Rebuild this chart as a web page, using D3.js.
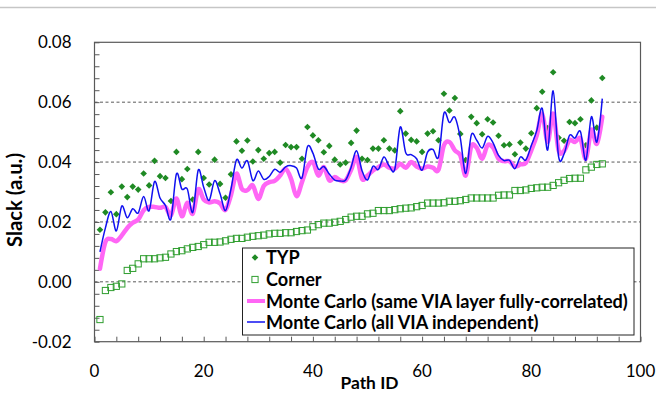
<!DOCTYPE html>
<html><head><meta charset="utf-8">
<script src="https://cdn.jsdelivr.net/npm/d3@7"></script>
<style>
html,body{margin:0;padding:0;background:#fff;}
svg{display:block;}
text{font-family:Lato,"Open Sans",sans-serif;}
</style></head>
<body>
<svg id="chart" width="656" height="409"></svg>
<script>
const pathIds = [1,2,3,4,5,6,7,8,9,10,11,12,13,14,15,16,17,18,19,20,21,22,23,24,25,26,27,28,29,30,31,32,33,34,35,36,37,38,39,40,41,42,43,44,45,46,47,48,49,50,51,52,53,54,55,56,57,58,59,60,61,62,63,64,65,66,67,68,69,70,71,72,73,74,75,76,77,78,79,80,81,82,83,84,85,86,87,88,89,90,91,92,93];
const typ = [0.0174,0.0232,0.0299,0.0226,0.0318,0.0283,0.0318,0.0308,0.0362,0.0322,
0.0404,0.0353,0.0347,0.0270,0.0434,0.0343,0.0377,0.0275,0.0434,0.0347,
0.0325,0.0408,0.0327,0.0281,0.0359,0.0469,0.0438,0.0472,0.0402,0.0440,
0.0411,0.0430,0.0434,0.0398,0.0457,0.0450,0.0450,0.0411,0.0517,0.0489,
0.0473,0.0433,0.0454,0.0408,0.0392,0.0398,0.0464,0.0505,0.0411,0.0407,
0.0445,0.0445,0.0473,0.0445,0.0439,0.0570,0.0495,0.0474,0.0469,0.0434,
0.0495,0.0503,0.0473,0.0628,0.0572,0.0614,0.0494,0.0407,0.0551,0.0530,
0.0493,0.0543,0.0532,0.0488,0.0456,0.0459,0.0426,0.0465,0.0445,0.0496,
0.0580,0.0635,0.0514,0.0700,0.0481,0.0471,0.0534,0.0530,0.0543,0.0456,
0.0606,0.0515,0.0681];
const corner = [-0.0126,-0.0029,-0.0019,-0.0015,-0.0007,0.0038,0.0045,0.0060,0.0077,0.0077,
0.0077,0.0080,0.0082,0.0093,0.0101,0.0104,0.0110,0.0115,0.0118,0.0124,
0.0132,0.0132,0.0133,0.0137,0.0142,0.0145,0.0145,0.0149,0.0152,0.0154,
0.0156,0.0160,0.0162,0.0162,0.0164,0.0164,0.0168,0.0171,0.0173,0.0184,
0.0191,0.0196,0.0196,0.0199,0.0202,0.0208,0.0216,0.0219,0.0219,0.0227,
0.0229,0.0238,0.0238,0.0238,0.0241,0.0244,0.0246,0.0247,0.0251,0.0255,
0.0263,0.0263,0.0263,0.0264,0.0269,0.0269,0.0271,0.0275,0.0280,0.0280,
0.0280,0.0280,0.0280,0.0289,0.0290,0.0290,0.0305,0.0305,0.0307,0.0312,
0.0314,0.0316,0.0316,0.0322,0.0331,0.0339,0.0345,0.0346,0.0346,0.0374,
0.0383,0.0392,0.0394];
const mcCorrelated = [0.0044,0.0133,0.0143,0.0136,0.0155,0.0180,0.0197,0.0208,0.0239,0.0250,
0.0250,0.0247,0.0250,0.0222,0.0278,0.0219,0.0264,0.0228,0.0309,0.0275,
0.0265,0.0269,0.0262,0.0240,0.0290,0.0361,0.0310,0.0306,0.0322,0.0277,
0.0320,0.0333,0.0337,0.0355,0.0378,0.0344,0.0286,0.0333,0.0383,0.0400,
0.0355,0.0383,0.0339,0.0350,0.0339,0.0339,0.0374,0.0417,0.0344,0.0355,
0.0372,0.0383,0.0392,0.0381,0.0378,0.0394,0.0381,0.0400,0.0385,0.0378,
0.0385,0.0381,0.0374,0.0456,0.0467,0.0439,0.0422,0.0355,0.0452,0.0448,
0.0411,0.0456,0.0448,0.0411,0.0403,0.0403,0.0385,0.0392,0.0397,0.0439,
0.0489,0.0562,0.0467,0.0562,0.0439,0.0437,0.0473,0.0467,0.0478,0.0411,
0.0508,0.0461,0.0551];
const mcIndependent = [0.0100,0.0180,0.0235,0.0170,0.0253,0.0214,0.0244,0.0230,0.0285,0.0237,
0.0335,0.0280,0.0255,0.0210,0.0360,0.0310,0.0310,0.0232,0.0373,0.0316,
0.0272,0.0338,0.0294,0.0238,0.0310,0.0407,0.0380,0.0404,0.0338,0.0370,
0.0342,0.0352,0.0376,0.0366,0.0384,0.0388,0.0380,0.0347,0.0451,0.0430,
0.0377,0.0385,0.0360,0.0340,0.0337,0.0340,0.0383,0.0438,0.0371,0.0340,
0.0386,0.0375,0.0417,0.0386,0.0376,0.0517,0.0431,0.0425,0.0411,0.0373,
0.0433,0.0442,0.0417,0.0563,0.0532,0.0550,0.0480,0.0362,0.0490,0.0473,
0.0447,0.0486,0.0464,0.0422,0.0405,0.0406,0.0378,0.0417,0.0407,0.0455,
0.0505,0.0579,0.0440,0.0638,0.0418,0.0427,0.0489,0.0480,0.0502,0.0406,
0.0551,0.0467,0.0612];
const xTickLabels = [0,20,40,60,80,100];
const yTickLabels = [-0.02,0.00,0.02,0.04,0.06,0.08];
const gridValues = [0.00,0.02,0.04,0.06];
const legendLabels = ["TYP","Corner","Monte Carlo (same VIA layer fully-correlated)","Monte Carlo (all VIA independent)"];

const svg = d3.select("#chart");
const L = 94.5, R = 640.5, T = 42.3, B = 341.7;
const x = d3.scaleLinear().domain([0,100]).range([L,R]);
const y = d3.scaleLinear().domain([-0.02,0.08]).range([B,T]);

const C = {typ:"#1f8a24", corner:"#2f9e2f", pink:"#ff66f5", blue:"#1010f0", axis:"#595959", grid:"#595959"};

svg.append("line").attr("x1",0).attr("x2",656).attr("y1",7.5).attr("y2",7.5)
  .attr("stroke","#c6c6c6").attr("stroke-width",1.5);

svg.append("g").selectAll("line").data(gridValues).join("line")
  .attr("x1",L).attr("x2",R).attr("y1",d=>y(d)).attr("y2",d=>y(d))
  .attr("stroke",C.grid).attr("stroke-width",1).attr("stroke-dasharray","3,2.5");

const yMinor = d3.range(-0.02, 0.0801, 0.004);
const xMinor = d3.range(0, 100.1, 4);
svg.append("g").attr("transform",`translate(${L},0)`)
  .call(d3.axisLeft(y).tickValues(yMinor).tickSize(-5).tickFormat(""))
  .call(g=>{g.select(".domain").remove(); g.selectAll("line").attr("stroke",C.axis);});
svg.append("g").attr("transform",`translate(0,${B})`)
  .call(d3.axisBottom(x).tickValues(xMinor).tickSize(-5).tickFormat(""))
  .call(g=>{g.select(".domain").remove(); g.selectAll("line").attr("stroke",C.axis);});

svg.append("rect").attr("x",L).attr("y",T).attr("width",R-L).attr("height",B-T)
  .attr("fill","none").attr("stroke",C.axis).attr("stroke-width",1.2);

const yl = svg.append("g").selectAll("text").data(yTickLabels).join("text")
  .attr("x",71.5).attr("y",d=>y(d)).attr("dy","0.36em").attr("text-anchor","end")
  .attr("font-size",17).attr("fill","#000").text(d=>d.toFixed(2));
const xl = svg.append("g").selectAll("text").data(xTickLabels).join("text")
  .attr("x",d=>x(d)).attr("y",376.5).attr("text-anchor","middle")
  .attr("font-size",17).attr("fill","#000").text(d=>d);

function fit(sel, target, base){
  const w = sel.node().getComputedTextLength();
  if (w>0) sel.attr("font-size", base*target/w);
}
(function(){
  const n = yl.filter(d=>d===0.08);
  const w = n.node().getComputedTextLength();
  const fs = 17*33.5/w;
  yl.attr("font-size",fs); xl.attr("font-size",fs);
})();

const xt = svg.append("text").attr("x",(L+R)/2+2).attr("y",389).attr("text-anchor","middle")
  .attr("font-weight","bold").attr("font-size",18).text("Path ID");
fit(xt,58,18);
const yt = svg.append("text").attr("transform","translate(21.5,200) rotate(-90)")
  .attr("text-anchor","middle").attr("font-weight","bold").attr("font-size",20).text("Slack (a.u.)");
fit(yt,94,20);

const diamond = r => `M0,${-r}L${r},0L0,${r}L${-r},0Z`;
const plot = svg.append("g");
plot.append("g").selectAll("path").data(pathIds).join("path")
  .attr("transform",(d,i)=>`translate(${x(d)},${y(typ[i])})`)
  .attr("d",diamond(3.3)).attr("fill",C.typ);
plot.append("g").selectAll("rect").data(pathIds).join("rect")
  .attr("x",(d,i)=>x(d)-3.1).attr("y",(d,i)=>y(corner[i])-3.1)
  .attr("width",6.2).attr("height",6.2)
  .attr("fill","none").attr("stroke",C.corner).attr("stroke-width",1);
const line = vals => d3.line().x((d,i)=>x(d)).y((d,i)=>y(vals[i])).curve(d3.curveCatmullRom.alpha(0))(pathIds);
plot.append("path").attr("d",line(mcCorrelated)).attr("fill","none")
  .attr("stroke",C.pink).attr("stroke-width",4.5).attr("stroke-linejoin","round").attr("stroke-linecap","round");
plot.append("path").attr("d",line(mcIndependent)).attr("fill","none")
  .attr("stroke",C.blue).attr("stroke-width",1.5).attr("stroke-linejoin","round");

const lg = svg.append("g");
lg.append("rect").attr("x",242.5).attr("y",248).attr("width",391.5).attr("height",87)
  .attr("fill","#fff").attr("stroke","#222").attr("stroke-width",1);
const rowY = [257.5, 279.5, 301, 322];
const lt = lg.selectAll("text").data(legendLabels).join("text")
  .attr("x",266).attr("y",(d,i)=>rowY[i]).attr("dy","0.36em")
  .attr("font-weight","bold").attr("font-size",16).attr("fill","#000").text(d=>d);
(function(){
  const w = lt.filter((d,i)=>i===2).node().getComputedTextLength();
  lt.attr("font-size",16*362/w);
})();
lg.append("path").attr("transform",`translate(255,${rowY[0]})`).attr("d",diamond(3.3)).attr("fill",C.typ);
lg.append("rect").attr("x",255-3.1).attr("y",rowY[1]-3.1).attr("width",6.2).attr("height",6.2)
  .attr("fill","none").attr("stroke",C.corner).attr("stroke-width",1);
lg.append("line").attr("x1",247).attr("x2",265).attr("y1",rowY[2]).attr("y2",rowY[2])
  .attr("stroke",C.pink).attr("stroke-width",4);
lg.append("line").attr("x1",247).attr("x2",265).attr("y1",rowY[3]).attr("y2",rowY[3])
  .attr("stroke",C.blue).attr("stroke-width",1.5);
</script>
</body></html>
